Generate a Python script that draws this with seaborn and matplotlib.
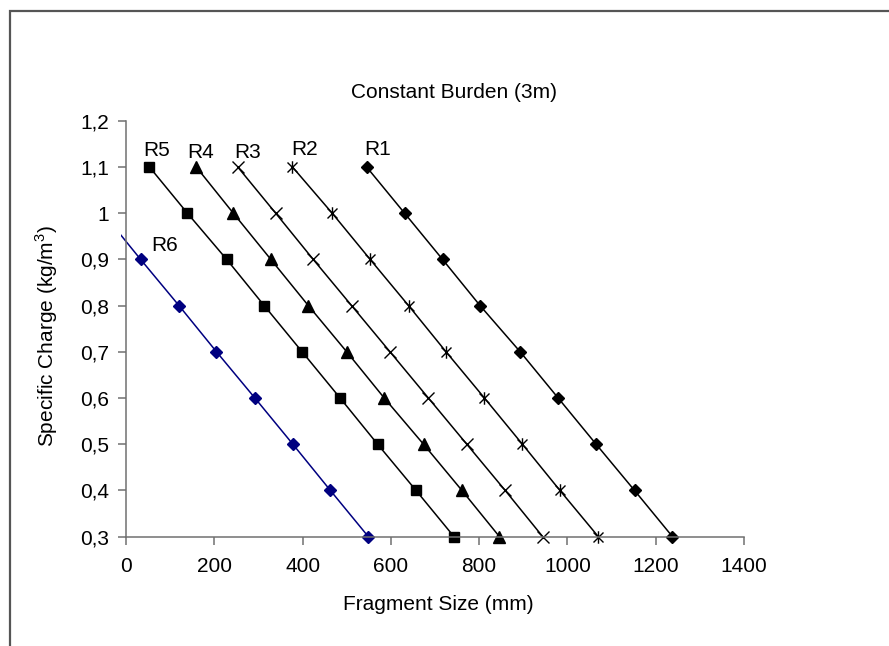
import numpy as np
import pandas as pd
import matplotlib
matplotlib.use("Agg")
import matplotlib.pyplot as plt
from matplotlib.patches import Rectangle
from matplotlib.path import Path
from matplotlib.ticker import FuncFormatter
import seaborn as sns

# ---- data ----
charge_9 = [1.1, 1.0, 0.9, 0.8, 0.7, 0.6, 0.5, 0.4, 0.3]
charge_r6 = [1.0, 0.9, 0.8, 0.7, 0.6, 0.5, 0.4, 0.3]

r1_size = [545, 631, 717, 802, 893, 979, 1065, 1152, 1238]
r2_size = [377, 467, 553, 640, 725, 812, 898, 983, 1070]
r3_size = [253, 339, 424, 511, 598, 685, 772, 859, 944]
r4_size = [159, 243, 328, 413, 500, 585, 674, 761, 846]
r5_size = [53, 139, 228, 313, 399, 485, 570, 657, 743]
r6_size = [-52, 33, 120, 205, 292, 378, 463, 549]

series_names = ["R1", "R2", "R3", "R4", "R5", "R6"]
label_x = [570, 404, 276, 170, 70, 88]
label_y = [1.138, 1.137, 1.132, 1.132, 1.1355, 0.930]

x_ticks = [0, 200, 400, 600, 800, 1000, 1200, 1400]
y_ticks = [0.3, 0.4, 0.5, 0.6, 0.7, 0.8, 0.9, 1.0, 1.1, 1.2]

title = "Constant Burden (3m)"
xlabel = "Fragment Size (mm)"
ylabel = "Specific Charge (kg/m$^3$)"

# ---- build long table ----
sizes = [r1_size, r2_size, r3_size, r4_size, r5_size, r6_size]
charges = [charge_9] * 5 + [charge_r6]
frames = []
for name, s, c in zip(series_names, sizes, charges):
    frames.append(pd.DataFrame({"size": s, "charge": c, "series": name}))
df = pd.concat(frames, ignore_index=True)

# ---- style ----
sns.set_theme(style="white")
plt.rcParams["font.family"] = ["Liberation Sans", "DejaVu Sans"]
plt.rcParams["mathtext.fontset"] = "custom"
plt.rcParams["mathtext.rm"] = "Liberation Sans"
plt.rcParams["text.color"] = "black"

W, H = 889, 646
fig = plt.figure(figsize=(W / 100, H / 100), dpi=100)

# axes placement (pixels -> figure fraction)
ax_l, ax_r = 120.7, 744.0
ax_t, ax_b = 120.7, 545.9
ax = fig.add_axes([ax_l / W, 1 - ax_b / H, (ax_r - ax_l) / W, (ax_b - ax_t) / H])

star = Path([(-1, -1), (1, 1), (-1, 1), (1, -1), (0, -1.25), (0, 1.25)],
            [Path.MOVETO, Path.LINETO, Path.MOVETO, Path.LINETO, Path.MOVETO, Path.LINETO])

styles = {
    "R1": dict(marker="D", ms=6.0, color="black"),
    "R2": dict(marker=star, ms=9, color="black"),
    "R3": dict(marker="x", ms=8.5, color="black"),
    "R4": dict(marker="^", ms=8.0, color="black"),
    "R5": dict(marker="s", ms=7.0, color="black"),
    "R6": dict(marker="D", ms=6.0, color="#000080"),
}

for name in series_names:
    st = styles[name]
    sub = df[df["series"] == name]
    sns.lineplot(data=sub, x="size", y="charge", ax=ax, color=st["color"],
                 marker=st["marker"], markersize=st["ms"],
                 markeredgecolor=st["color"], markerfacecolor=st["color"],
                 markeredgewidth=1.0, linewidth=1.1, legend=False,
                 estimator=None, sort=False)

for name, tx, ty in zip(series_names, label_x, label_y):
    ax.text(tx, ty, name, ha="center", va="center", fontsize=15, color="black")

ax.set_xlim(-12, 1400)
ax.set_ylim(0.28, 1.2)
ax.spines["left"].set_position(("data", 0))
ax.spines["bottom"].set_position(("data", 0.3))
ax.spines["left"].set_bounds(0.3, 1.2)
ax.spines["bottom"].set_bounds(0, 1400)
for sp in ["top", "right"]:
    ax.spines[sp].set_visible(False)
for sp in ["left", "bottom"]:
    ax.spines[sp].set_color("#707070")
    ax.spines[sp].set_linewidth(1.1)

ax.set_xticks(x_ticks)
ax.set_yticks(y_ticks)
ax.yaxis.set_major_formatter(FuncFormatter(lambda v, p: ("%g" % round(v, 1)).replace(".", ",")))
ax.tick_params(axis="both", direction="out", length=6, width=1.1, color="#707070",
               labelsize=15, labelcolor="black", left=True, bottom=True)
ax.tick_params(axis="x", pad=9)
ax.tick_params(axis="y", pad=6)
ax.set_xlabel("")
ax.set_ylabel("")
ax.patch.set_alpha(0)

fig.text(454 / W, 1 - 92 / H, title, ha="center", va="center", fontsize=15, color="black")
fig.text(438 / W, 1 - 605 / H, xlabel, ha="center", va="center", fontsize=15, color="black")
fig.text(47 / W, 1 - 336 / H, ylabel, ha="center", va="center", fontsize=15,
         rotation=90, color="black")

# chart-area border (extends past right and bottom edges)
fig.add_artist(Rectangle((10 / W, -0.2), 1.5, 1.2 - 10.5 / H, transform=fig.transFigure,
                         fill=False, edgecolor="#555555", linewidth=1.6))

fig.savefig("out.png", dpi=100)
